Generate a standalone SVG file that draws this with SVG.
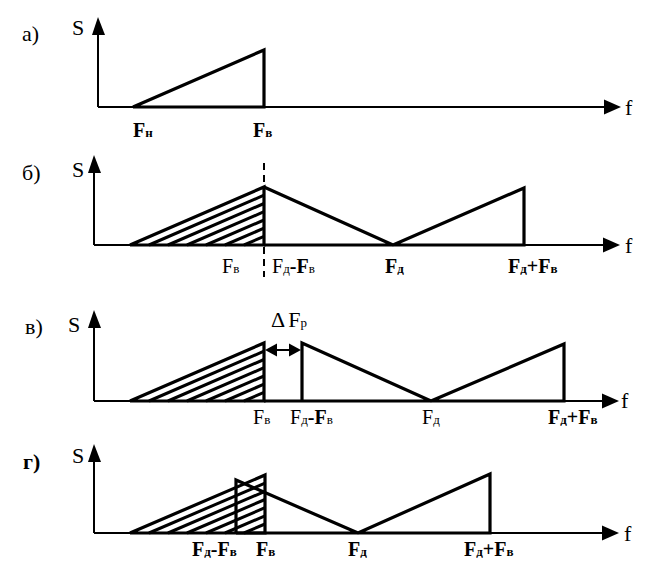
<svg xmlns="http://www.w3.org/2000/svg" width="661" height="575" viewBox="0 0 661 575">
<defs>
<style>
text{font-family:"Liberation Serif","Times New Roman","DejaVu Serif",serif;fill:#000}
.pl{font-size:22px}
.lb{font-size:20px}
.b{font-weight:bold}
.sub{font-size:13px}
.ax{stroke:#000;stroke-width:2;fill:none}
.sp{stroke:#000;stroke-width:3.2;fill:none;stroke-linejoin:miter}
.h{stroke:#000;stroke-width:3}
.ah{fill:#000}
</style>
</defs>
<rect width="661" height="575" fill="#fff"/>

<!-- Panel a -->
<g id="panel-a" font-family="Liberation Serif, serif">
<text class="pl" x="22" y="41">а)</text>
<text class="pl" x="72" y="35">S</text>
<path class="ax" d="M98,107 V32 M98,107 H606"/>
<polygon class="ah" points="98,17 92,35 105,35"/>
<polygon class="ah" points="621,107 604,99.5 604,114.5"/>
<text class="pl" x="625" y="115">f</text>
<path class="sp" d="M133,107 L264,50 V107 H133"/>
<text class="lb b" x="133" y="137">F<tspan class="sub">н</tspan></text>
<text class="lb b" x="253" y="137">F<tspan class="sub">в</tspan></text>
</g>

<!-- Panel б -->
<g id="panel-b" font-family="Liberation Serif, serif">
<text class="pl" x="22" y="180">б)</text>
<text class="pl" x="72" y="177">S</text>
<path class="ax" d="M94,245 V170 M94,245 H606"/>
<polygon class="ah" points="94,155 88,173 101,173"/>
<polygon class="ah" points="620,245 603,237.5 603,252.5"/>
<text class="pl" x="625" y="253">f</text>
<path class="ax" d="M264,163 V277" stroke-dasharray="7,5"/>
<path class="sp" d="M130,245 L264,187 V245 H130"/>
<path class="sp" d="M264,187 L393,245 L524,188 V245 H264"/>
<g class="h">
<line x1="149" y1="245" x2="264" y2="195.2"/>
<line x1="168" y1="245" x2="264" y2="203.5"/>
<line x1="187" y1="245" x2="264" y2="211.7"/>
<line x1="206" y1="245" x2="264" y2="220"/>
<line x1="225" y1="245" x2="264" y2="228.2"/>
<line x1="244" y1="245" x2="264" y2="236.4"/>
</g>
<text class="lb" x="222" y="273">F<tspan class="sub">в</tspan></text>
<text class="lb" x="272" y="273">F<tspan class="sub">д</tspan><tspan class="b">-F</tspan><tspan class="sub">в</tspan></text>
<text class="lb b" x="385" y="273">F<tspan class="sub">д</tspan></text>
<text class="lb b" x="508" y="273">F<tspan class="sub">д</tspan>+F<tspan class="sub">в</tspan></text>
</g>

<!-- Panel в -->
<g id="panel-v" font-family="Liberation Serif, serif">
<text class="pl" x="25" y="334">в)</text>
<text class="pl" x="68" y="332">S</text>
<path class="ax" d="M94,401 V325 M94,401 H606"/>
<polygon class="ah" points="94,310 88,328 101,328"/>
<polygon class="ah" points="619,401 602,393.5 602,408.5"/>
<text class="pl" x="621" y="408">f</text>
<path class="sp" d="M130,401 L264,343 V401 H130"/>
<path class="sp" d="M302,401 V343 L431,401 L564,344 V401 H264"/>
<g class="h">
<line x1="149" y1="401" x2="264" y2="351.2"/>
<line x1="168" y1="401" x2="264" y2="359.5"/>
<line x1="187" y1="401" x2="264" y2="367.7"/>
<line x1="206" y1="401" x2="264" y2="376"/>
<line x1="225" y1="401" x2="264" y2="384.2"/>
<line x1="244" y1="401" x2="264" y2="392.4"/>
</g>
<g id="delta-arrow">
<line class="ax" x1="270" y1="350" x2="296" y2="350"/>
<polygon class="ah" points="265,350 277,343.5 277,356.5"/>
<polygon class="ah" points="301,350 289,343.5 289,356.5"/>
</g>
<text class="pl" x="271" y="327">Δ<tspan dx="3">F</tspan><tspan class="sub">р</tspan></text>
<text class="lb" x="253" y="424">F<tspan class="sub">в</tspan></text>
<text class="lb" x="290" y="424">F<tspan class="sub">д</tspan><tspan class="b">-F</tspan><tspan class="sub">в</tspan></text>
<text class="lb" x="422" y="424">F<tspan class="sub">д</tspan></text>
<text class="lb b" x="548" y="424">F<tspan class="sub">д</tspan>+F<tspan class="sub">в</tspan></text>
</g>

<!-- Panel г -->
<g id="panel-g" font-family="Liberation Serif, serif">
<text class="pl b" x="23" y="469">г)</text>
<text class="pl" x="72" y="463">S</text>
<path class="ax" d="M94,533 V458 M94,533 H606"/>
<polygon class="ah" points="94,444 88,462 101,462"/>
<polygon class="ah" points="619,533 602,525.5 602,540.5"/>
<text class="pl" x="624" y="541">f</text>
<path class="sp" d="M130,533 L265,475 V533 H130"/>
<path class="sp" d="M236,533 V480 L358,533 L490,474 V533 H236"/>
<g class="h">
<line x1="149" y1="533" x2="265" y2="483.2"/>
<line x1="168" y1="533" x2="265" y2="491.3"/>
<line x1="187" y1="533" x2="265" y2="499.5"/>
<line x1="206" y1="533" x2="265" y2="507.7"/>
<line x1="225" y1="533" x2="265" y2="515.8"/>
<line x1="244" y1="533" x2="265" y2="524"/>
</g>
<text class="lb b" x="192" y="556">F<tspan class="sub">д</tspan>-F<tspan class="sub">в</tspan></text>
<text class="lb b" x="256" y="556">F<tspan class="sub">в</tspan></text>
<text class="lb b" x="348" y="556">F<tspan class="sub">д</tspan></text>
<text class="lb b" x="464" y="556">F<tspan class="sub">д</tspan>+F<tspan class="sub">в</tspan></text>
</g>
</svg>
